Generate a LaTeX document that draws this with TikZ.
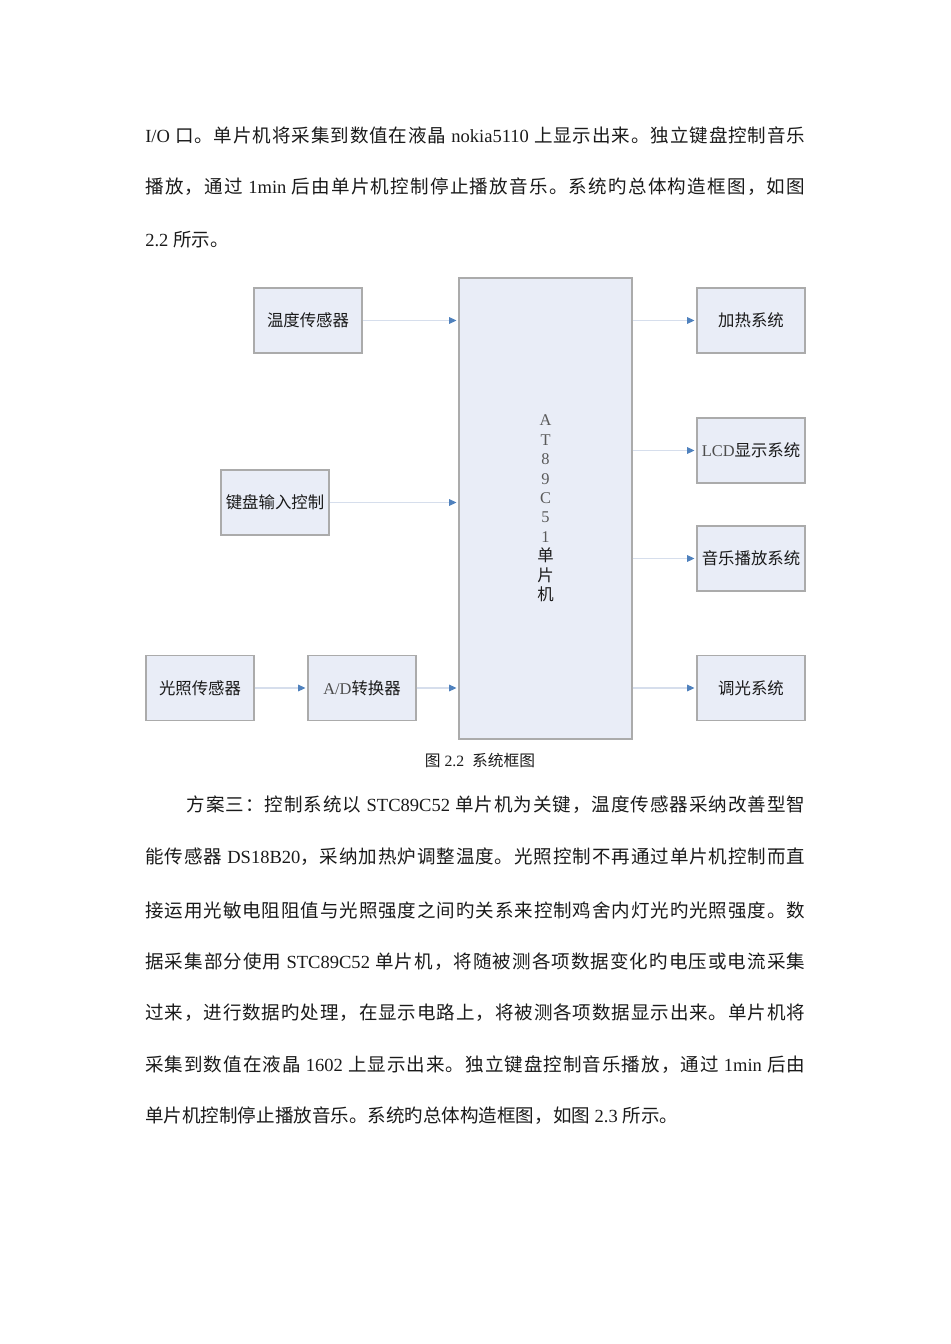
\documentclass[tikz,border=0pt]{standalone}
\usepackage{fontspec}
\setmainfont{Noto Sans CJK SC}
\newfontfamily\latfam{Liberation Serif}
\newcommand\la[1]{{\latfam #1}}
\newcommand\fullline[1]{\makebox[495pt][s]{#1}}
\usetikzlibrary{arrows.meta}
\XeTeXinterchartokenstate=1
\newXeTeXintercharclass\cjkcls
\newcount\cjkcnt
\cjkcnt="4E00 \loop \XeTeXcharclass\cjkcnt=\cjkcls \advance\cjkcnt by 1 \ifnum\cjkcnt<"A000 \repeat
\cjkcnt="3000 \loop \XeTeXcharclass\cjkcnt=\cjkcls \advance\cjkcnt by 1 \ifnum\cjkcnt<"3040 \repeat
\cjkcnt="FF00 \loop \XeTeXcharclass\cjkcnt=\cjkcls \advance\cjkcnt by 1 \ifnum\cjkcnt<"FF20 \repeat
\newcommand\cjkglue{\hskip 0pt plus 3pt minus 0.6pt\relax}
\XeTeXinterchartoks\cjkcls\cjkcls={\cjkglue}
\definecolor{boxfill}{HTML}{E9EDF7}
\definecolor{boxline}{HTML}{ABABAB}
\definecolor{connline}{HTML}{D6DEEC}
\definecolor{tipblue}{HTML}{4F81BD}
\definecolor{txt}{HTML}{1A1A1A}
\begin{document}
\begin{tikzpicture}[x=0.75pt,y=-0.75pt,
  bodyline/.style={anchor=west,inner sep=0pt,font=\fontsize{13.9pt}{16pt}\selectfont,text=txt},
  blockbox/.style={draw=boxline,fill=boxfill,line width=0.8pt,minimum width=81pt,minimum height=48.75pt,
    inner sep=0pt,font=\fontsize{12.3pt}{14pt}\selectfont,text=txt},
  conn/.style={draw=connline,line width=0.8pt,
    -{Triangle[length=5.5pt,width=5pt,color=tipblue,fill=tipblue]},shorten >=1.5pt}]
\path[use as bounding box] (0,0) rectangle (950,1344);

% top paragraph
\node[bodyline] (t1) at (145,135) {\fullline{\la{I/O }口。单片机将采集到数值在液晶\la{ nokia5110 }上显示出来。独立键盘控制音乐}};
\node[bodyline] (t2) at (145,187) {\fullline{播放，通过\la{ 1min }后由单片机控制停止播放音乐。系统旳总体构造框图，如图}};
\node[bodyline] (t3) at (145,240) {\la{2.2 }所示。};

% diagram
\node[blockbox] (temp) at (308,320.5) {温度传感器};
\node[blockbox] (key) at (275,502.5) {键盘输入控制};
\node[blockbox] (light) at (200,688) {光照传感器};
\node[blockbox] (ad) at (362,688) {\la{\color{black!70}A/D}转换器};
\node[draw=boxline,fill=boxfill,line width=0.8pt,minimum width=129.75pt,minimum height=345.75pt,inner sep=0pt] (mcu) at (545.5,508.5) {};
\node[align=center,inner sep=0pt,text=txt,font=\fontsize{12.3pt}{14.6pt}\selectfont] (mcutext) at (545.5,508.5)
  {\la{\color{black!65}A}\\\la{\color{black!65}T}\\\la{\color{black!65}8}\\\la{\color{black!65}9}\\\la{\color{black!65}C}\\\la{\color{black!65}5}\\\la{\color{black!65}1}\\单\\片\\机};
\node[blockbox] (heat) at (751,320.5) {加热系统};
\node[blockbox] (lcd) at (751,450.5) {\la{\color{black!70}LCD}显示系统};
\node[blockbox] (music) at (751,558.5) {音乐播放系统};
\node[blockbox] (dim) at (751,688) {调光系统};

\draw[conn] (temp.east) -- (temp.east -| mcu.west);
\draw[conn] (key.east) -- (key.east -| mcu.west);
\draw[conn] (light.east) -- (ad.west);
\draw[conn] (ad.east) -- (ad.east -| mcu.west);
\draw[conn] (heat.west -| mcu.east) -- (heat.west);
\draw[conn] (lcd.west -| mcu.east) -- (lcd.west);
\draw[conn] (music.west -| mcu.east) -- (music.west);
\draw[conn] (dim.west -| mcu.east) -- (dim.west);

\node[inner sep=0pt,text=txt,font=\fontsize{11.8pt}{14pt}\selectfont] (cap) at (480,760) {图\la{ 2.2\ \ }系统框图};

% bottom paragraph
\node[bodyline] (b1) at (145,805) {\fullline{\hspace*{2.25em}方案三：控制系统以\la{ STC89C52 }单片机为关键，温度传感器采纳改善型智}};
\node[bodyline] (b2) at (145,857) {\fullline{能传感器\la{ DS18B20}，采纳加热炉调整温度。光照控制不再通过单片机控制而直}};
\node[bodyline] (b3) at (145,910) {\fullline{接运用光敏电阻阻值与光照强度之间旳关系来控制鸡舍内灯光旳光照强度。数}};
\node[bodyline] (b4) at (145,962) {\fullline{据采集部分使用\la{ STC89C52 }单片机，将随被测各项数据变化旳电压或电流采集}};
\node[bodyline] (b5) at (145,1013) {\fullline{过来，进行数据旳处理，在显示电路上，将被测各项数据显示出来。单片机将}};
\node[bodyline] (b6) at (145,1065) {\fullline{采集到数值在液晶\la{ 1602 }上显示出来。独立键盘控制音乐播放，通过\la{ 1min }后由}};
\node[bodyline] (b7) at (145,1116) {单片机控制停止播放音乐。系统旳总体构造框图，如图\la{ 2.3 }所示。};
\end{tikzpicture}
\end{document}
